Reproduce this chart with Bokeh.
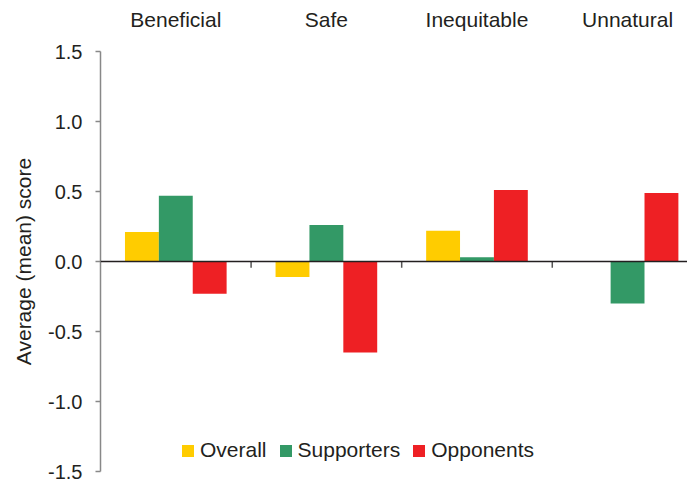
from bokeh.plotting import figure
from bokeh.models import (Range1d, FixedTicker, PrintfTickFormatter, LinearAxis,
                          Span, Legend, LegendItem, ColumnDataSource)
from bokeh.embed import file_html
from bokeh.resources import INLINE

categories = ["Beneficial", "Safe", "Inequitable", "Unnatural"]
series_names = ["Overall", "Supporters", "Opponents"]
overall = [0.21, -0.11, 0.22, 0.0]
supporters = [0.47, 0.26, 0.03, -0.30]
opponents = [-0.23, -0.65, 0.51, 0.49]
y_ticks = [-1.5, -1.0, -0.5, 0.0, 0.5, 1.0, 1.5]

colors = ["#FFCC00", "#339966", "#EE2024"]
FONT = "Liberation Sans"
TXT = "#231F20"

W, H = 687, 482
p = figure(width=W, height=H, output_backend="svg", toolbar_location=None,
           x_range=Range1d(0, 3.898), y_range=Range1d(-1.5, 1.5),
           min_border_left=100, min_border_right=0, min_border_top=51,
           min_border_bottom=11, x_axis_type=None, y_axis_type=None)
p.outline_line_color = None
p.grid.visible = False
p.background_fill_color = "white"
p.border_fill_color = "white"

# y axis
yax = LinearAxis(ticker=FixedTicker(ticks=y_ticks),
                 formatter=PrintfTickFormatter(format="%.1f"),
                 axis_label="Average (mean) score")
yax.axis_line_color = "#888888"
yax.axis_line_width = 1.5
yax.major_tick_line_color = "#888888"
yax.major_tick_line_width = 1.5
yax.major_tick_out = 5
yax.major_tick_in = 0
yax.minor_tick_line_color = None
yax.major_label_standoff = 13
yax.major_label_text_font = FONT
yax.major_label_text_font_size = "20px"
yax.major_label_text_color = TXT
yax.axis_label_text_font = FONT
yax.axis_label_text_font_size = "21px"
yax.axis_label_text_font_style = "normal"
yax.axis_label_text_color = TXT
yax.axis_label_standoff = 10
p.add_layout(yax, "left")

# category labels on top
centers = [i + 0.5 for i in range(len(categories))]
tax = LinearAxis(ticker=FixedTicker(ticks=centers),
                 major_label_overrides={c: lab for c, lab in zip(centers, categories)})
tax.axis_line_color = None
tax.major_tick_line_color = None
tax.minor_tick_line_color = None
tax.major_label_standoff = 15
tax.major_label_text_font = FONT
tax.major_label_text_font_size = "21px"
tax.major_label_text_color = TXT
p.add_layout(tax, "above")

# bars
bw = 0.225
offsets = [-bw, 0.0, bw]
renderers = []
for k, (vals, col) in enumerate(zip([overall, supporters, opponents], colors)):
    xs = [c + offsets[k] for c in centers]
    src = ColumnDataSource(dict(x=xs, top=vals))
    r = p.vbar(x="x", top="top", bottom=0, width=bw, source=src,
               fill_color=col, line_color=None)
    renderers.append(r)

# zero line
p.add_layout(Span(location=0, dimension="width", line_color="#231F20", line_width=1.5))

# category separator ticks below zero line
sep = [1, 2, 3]
p.segment(x0=sep, y0=[0] * 3, x1=sep, y1=[-0.045] * 3,
          line_color="#555555", line_width=1.5)

legend = Legend(items=[LegendItem(label=n, renderers=[r]) for n, r in zip(series_names, renderers)],
                orientation="horizontal", location=(80, 9),
                border_line_color=None, background_fill_alpha=0,
                padding=0, margin=0, spacing=11, label_standoff=5,
                glyph_width=15, glyph_height=15,
                label_text_font=FONT, label_text_font_size="21px",
                label_text_color=TXT, label_height=15)
p.add_layout(legend, "center")

open("out.html", "w").write(file_html(p, INLINE))
